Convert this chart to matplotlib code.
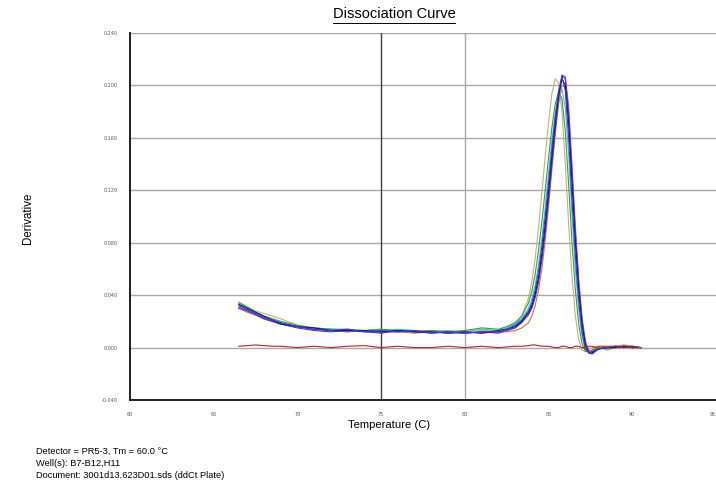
import matplotlib
matplotlib.use("Agg")
import matplotlib.pyplot as plt

# ── data ─────────────────────────────────────────────────────────────────────
temps = [66.5, 67, 67.5, 68, 68.5, 69, 70, 71, 72, 73, 74, 75, 76, 77, 78, 79, 80, 81, 82,
         82.5, 83, 83.4, 83.8, 84.0, 84.2, 84.4, 84.6, 84.8, 85.0, 85.2, 85.4, 85.6, 85.8,
         86.0, 86.2, 86.4, 86.6, 86.8, 87.0, 87.2, 87.4, 87.6, 87.8, 88.0, 88.5, 89, 89.5,
         90, 90.5]

blue = [.032, .029, .026, .023, .021, .019, .016, .014, .013, .014, .012, .013, .012, .013,
        .011, .012, .011, .012, .012, .014, .017, .021, .028, .034, .044, .058, .077, .100,
        .126, .152, .176, .196, .207, .196, .160, .112, .070, .036, .012, -.001, -.004, -.003,
        -.002, -.001, .000, .001, .000, .001, .000]
navy = [.033, .030, .027, .024, .021, .018, .016, .015, .013, .013, .013, .012, .013, .012,
        .012, .011, .012, .011, .013, .014, .016, .020, .027, .032, .041, .054, .072, .094,
        .120, .147, .172, .193, .205, .200, .170, .124, .080, .043, .017, .002, -.004, -.004,
        -.002, -.001, .000, .000, .001, .000, .000]
purple = [.030, .028, .025, .022, .020, .018, .015, .013, .012, .013, .012, .011, .013, .012,
          .011, .012, .011, .012, .011, .013, .015, .019, .025, .030, .038, .050, .067, .088,
          .113, .140, .166, .190, .208, .205, .178, .132, .086, .048, .020, .003, -.004, -.005,
          -.003, -.001, .000, .001, .000, .001, .000]
magenta = [.031, .028, .025, .022, .020, .018, .016, .014, .013, .012, .013, .012, .012, .013,
           .012, .012, .012, .011, .012, .013, .015, .020, .026, .031, .040, .052, .069, .091,
           .116, .143, .169, .192, .207, .207, .184, .140, .093, .053, .023, .005, -.003, -.004,
           -.002, -.001, .000, .000, .001, .000, .000]
green = [.034, .031, .027, .024, .022, .020, .017, .015, .014, .014, .013, .014, .013, .012,
         .013, .012, .013, .015, .014, .016, .019, .024, .034, .043, .056, .074, .096, .120,
         .145, .168, .186, .195, .190, .165, .124, .080, .044, .018, .003, -.003, -.003, -.002,
         -.001, .000, -.001, .000, .001, .000, .000]
olive = [.035, .031, .028, .026, .024, .022, .017, .014, .014, .013, .013, .014, .012, .013,
         .013, .012, .012, .013, .013, .015, .018, .024, .038, .050, .068, .092, .118, .146,
         .172, .194, .205, .202, .180, .140, .094, .054, .024, .006, -.002, -.003, -.002, .000,
         .001, .000, -.002, .000, .001, -.001, .000]
teal = [.032, .029, .026, .023, .021, .019, .016, .015, .014, .013, .013, .012, .014, .013,
        .012, .013, .012, .014, .013, .015, .018, .022, .030, .037, .048, .063, .083, .107,
        .133, .158, .179, .193, .197, .183, .147, .101, .060, .029, .009, -.002, -.004, -.003,
        -.001, .000, .000, .001, .000, .000, .000]
orange = [.030, .027, .025, .022, .020, .018, .016, .014, .013, .012, .013, .012, .012, .011,
          .012, .011, .011, .012, .012, .012, .013, .015, .019, .024, .032, .044, .060, .082,
          .108, .136, .163, .186, .200, .199, .176, .134, .088, .049, .020, .004, -.002, -.003,
          -.001, .000, .000, .001, .002, .001, .000]
ntc = [.001, .0015, .002, .0015, .001, .001, .000, .001, .000, .001, .0015, .000, .001, .000,
       .000, .001, .000, .001, .000, .0005, .001, .001, .0015, .002, .002, .0015, .001, .001,
       .001, .0005, .000, .000, .001, .001, .000, .000, .001, .001, .000, .000, .001, .001,
       .000, .001, .001, .001, .000, .0005, .000]

series = [("olive", olive, "#c8b070"), ("teal", teal, "#40c0c8"),
          ("green", green, "#30a040"), ("orange", orange, "#c07838"),
          ("magenta", magenta, "#c050c0"), ("purple", purple, "#6a2a9a"),
          ("navy", navy, "#141470"), ("blue", blue, "#2040e0")]

x_ticks = [60, 65, 70, 75, 80, 85, 90, 95]
y_ticks = [-0.04, 0.0, 0.04, 0.08, 0.12, 0.16, 0.2, 0.24]

fig = plt.figure(figsize=(7.16, 4.87), dpi=100)
ax = fig.add_axes([130 / 716, 1 - 400 / 487, 1 - 130 / 716, (400 - 33) / 487])

for yv in y_ticks[1:]:
    ax.axhline(yv, color="#a8a8a8", lw=1.0, zorder=1)
ax.axvline(75, color="#404040", lw=1.0, zorder=1)
ax.axvline(80, color="#a8a8a8", lw=1.0, zorder=1)

for name, vals, col in series:
    ax.plot(temps, vals, color=col, lw=0.8, zorder=3)
ax.plot(temps, ntc, color="#b02828", lw=0.8, zorder=3)

ax.set_xlim(60, 95)
ax.set_ylim(-0.04, 0.24)
ax.set_xticks(x_ticks)
ax.set_xticklabels([str(t) for t in x_ticks])
ax.get_xticklabels()[-1].set_horizontalalignment("right")
ax.set_yticks(y_ticks)
ax.set_yticklabels([f"{v:.3f}" for v in y_ticks])
ax.tick_params(axis="both", labelsize=3.5, length=0, colors="#555555", pad=9)
for s in ("top", "right"):
    ax.spines[s].set_visible(False)
for s in ("left", "bottom"):
    ax.spines[s].set_color("#202020")
    ax.spines[s].set_linewidth(1.4)

fig.text(394 / 716, 1 - 14 / 487, "Dissociation Curve", ha="center", va="center",
         fontsize=10.5, family="Liberation Sans")
fig.add_artist(plt.Line2D([333 / 716, 455 / 716], [1 - 23 / 487] * 2, color="black", lw=0.7))
fig.text(28 / 716, 1 - 218 / 487, "Derivative", rotation=90, ha="center", va="center",
         fontsize=8.3, family="Liberation Sans")
fig.text(389 / 716, 1 - 425 / 487, "Temperature (C)", ha="center", va="center",
         fontsize=8.1, family="Liberation Sans")
footer = ["Detector = PR5-3, Tm = 60.0 \u00b0C", "Well(s): B7-B12,H11",
          "Document: 3001d13.623D01.sds (ddCt Plate)"]
for i, line in enumerate(footer):
    fig.text(36 / 716, 1 - (451 + 12.5 * i) / 487, line, ha="left", va="center",
             fontsize=6.7, family="Liberation Sans")

fig.savefig("out.png", dpi=100)
